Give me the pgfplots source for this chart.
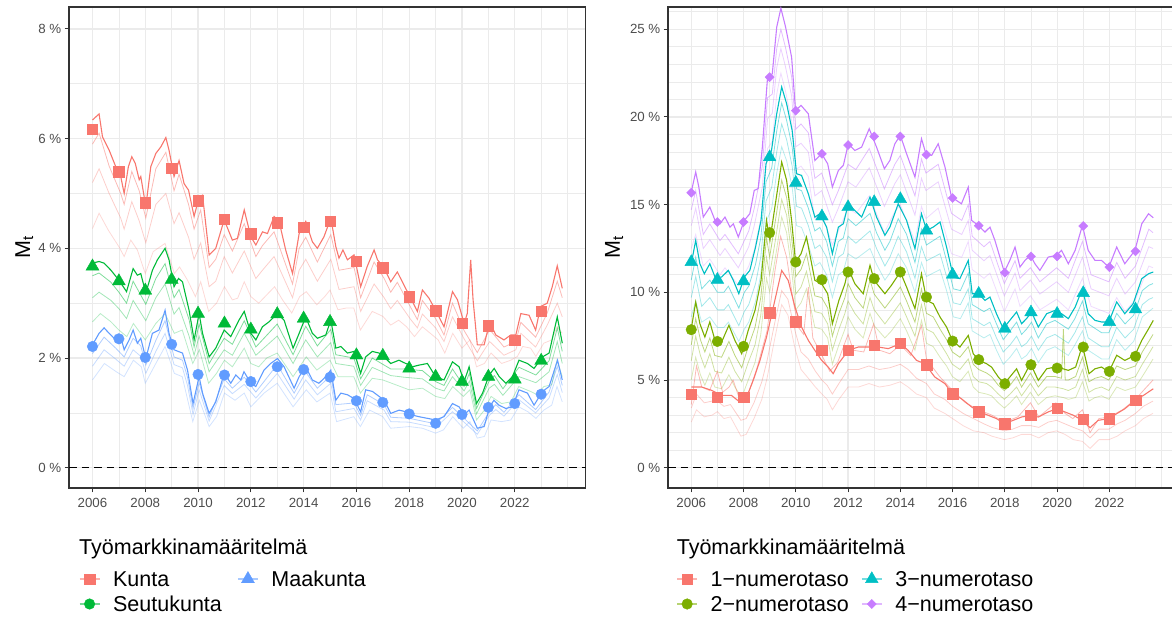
\documentclass[border=0pt]{standalone}
\usepackage{fontspec}
\setmainfont{Liberation Sans}
\usepackage{pgfplots}
\pgfplotsset{compat=1.18}
\definecolor{cR}{HTML}{F8766D}
\definecolor{cG}{HTML}{00BA38}
\definecolor{cB}{HTML}{619CFF}
\definecolor{cO}{HTML}{7CAE00}
\definecolor{cC}{HTML}{00BFC4}
\definecolor{cP}{HTML}{C77CFF}
\definecolor{gridc}{HTML}{EBEBEB}
\definecolor{axc}{HTML}{333333}
\definecolor{tickc}{HTML}{4D4D4D}
\newcommand\lgfont{\fontsize{21.5}{25}\selectfont}
\newcommand\tkfont{\fontsize{13.3}{16}\selectfont}
\pgfplotsset{
 fa/.style={line width=0.8pt, opacity=0.5, forget plot},
 fb/.style={line width=0.8pt, opacity=0.36, forget plot},
 fc/.style={line width=0.8pt, opacity=0.28, forget plot},
 mn/.style={line width=1.1pt, forget plot},
 mk/.style={only marks, forget plot},
 lgk/.style={legend image code/.code={
   \draw[##1, mark=none, line width=1.1pt, draw opacity=0.55] (0pt,0pt) -- (20pt,0pt);
   \draw[##1, only marks] plot coordinates {(10pt,0pt)};}},
 base/.style={
   scale only axis, height=481pt,
   xmin=2005.11, xmax=2024.68,
   xtick={2006,2008,2010,2012,2014,2016,2018,2020,2022},
   xticklabels={2006,2008,2010,2012,2014,2016,2018,2020,2022},
   minor xtick={2007,2009,2011,2013,2015,2017,2019,2021,2023,2024},
   grid=both,
   major grid style={draw=gridc, line width=1.2pt},
   minor grid style={draw=gridc, line width=0.7pt},
   tick align=outside, major tick length=4.5pt, minor tick length=0pt,
   tick style={draw=axc, line width=1pt},
   axis line style={draw=axc, line width=1.1pt},
   xtick pos=left, ytick pos=left,
   ticklabel style={font=\tkfont, text=tickc},
   xticklabel style={inner sep=0pt, yshift=-5.5pt},
   yticklabel style={inner sep=0pt, xshift=-3pt},
   clip mode=individual,
   legend columns=2,
   legend cell align=left,
   ylabel={M\textsubscript{t}},
 },
}
\begin{document}
\begin{tikzpicture}
\useasboundingbox (0pt,0pt) rectangle (1172pt,617pt);
%%%%%%%%%%%%%%%% LEFT
\begin{axis}[base, at={(69pt,129pt)}, anchor=south west, width=516.5pt,
  ymin=-0.37, ymax=8.40,
  ytick={0,2,4,6,8}, yticklabels={0 \%,2 \%,4 \%,6 \%,8 \%},
  minor ytick={1,3,5,7},
  ylabel style={at={(axis description cs:-0.0755,0.5)}, anchor=base, font=\lgfont, inner sep=0pt},
  legend style={at={(axis description cs:0.0194,-0.1732)}, anchor=north west, draw=none, fill=none,
    inner sep=0pt, outer sep=0pt, row sep=9.6pt,
    nodes={inner sep=0pt, text height=15.4pt, text depth=0pt, font=\lgfont},
    /tikz/every odd column/.style={column sep=13pt},
    /tikz/every even column/.style={column sep=15.5pt}},
]
\addplot[black, dashed, line width=1.1pt, dash pattern=on 7.5pt off 5pt, forget plot] coordinates {(2005.11,0)(2024.68,0)};
% Maakunta faint
\addplot[cB, fc] coordinates {(2006.0,1.60)(2006.45,1.90)(2006.9,1.75)(2007.2,1.66)(2007.55,1.96)(2007.85,1.84)(2008.0,1.54)(2008.4,1.90)(2008.75,2.21)(2009.1,1.72)(2009.4,1.66)(2009.8,0.84)(2010.05,1.23)(2010.42,0.75)(2010.7,0.93)(2011.0,1.36)(2011.4,1.23)(2011.75,1.36)(2012.0,1.11)(2012.5,1.36)(2013.0,1.54)(2013.6,1.11)(2014.1,1.42)(2014.5,1.20)(2015.0,1.36)(2015.25,0.84)(2015.9,0.93)(2016.15,0.75)(2016.5,1.05)(2017.0,0.93)(2017.3,0.72)(2018.0,0.75)(2018.5,0.72)(2019.0,0.63)(2019.3,0.69)(2019.65,0.93)(2020.05,0.72)(2020.3,0.84)(2020.58,0.54)(2020.85,0.57)(2021.1,0.87)(2021.5,0.84)(2021.85,0.87)(2022.15,1.11)(2022.5,1.02)(2022.8,0.90)(2023.1,1.05)(2023.4,1.14)(2023.6,1.48)(2023.8,1.20)};
\addplot[cB, fb] coordinates {(2006.0,1.85)(2006.44,2.15)(2006.88,1.98)(2007.2,1.85)(2007.54,2.15)(2007.83,2.03)(2008.02,1.72)(2008.4,2.12)(2008.75,2.45)(2009.09,1.88)(2009.41,1.82)(2009.6,1.5)(2009.81,0.97)(2010.04,1.42)(2010.42,0.85)(2010.99,1.5)(2011.3,1.35)(2011.75,1.52)(2012.19,1.27)(2013.0,1.72)(2013.64,1.25)(2014.08,1.6)(2014.52,1.33)(2015.03,1.54)(2015.22,1.02)(2015.91,1.08)(2016.16,0.87)(2016.41,1.22)(2017.05,1.05)(2017.3,0.84)(2018.0,0.83)(2019.0,0.73)(2019.64,1.02)(2020.08,0.83)(2020.58,0.61)(2021.05,0.96)(2021.28,1.06)(2021.59,0.94)(2022.16,1.24)(2022.79,1.0)(2023.3,1.27)(2023.61,1.7)(2023.8,1.37)};
\addplot[cB, fa] coordinates {(2006.0,2.08)(2006.44,2.38)(2006.88,2.18)(2007.2,2.02)(2007.54,2.36)(2007.83,2.22)(2008.02,1.87)(2008.4,2.32)(2008.75,2.68)(2009.09,2.02)(2009.41,1.96)(2009.6,1.65)(2009.81,1.08)(2010.04,1.55)(2010.42,0.92)(2010.99,1.62)(2011.3,1.45)(2011.75,1.65)(2012.19,1.38)(2013.0,1.88)(2013.64,1.36)(2014.08,1.74)(2014.52,1.45)(2015.03,1.68)(2015.22,1.15)(2015.91,1.18)(2016.16,0.95)(2016.41,1.33)(2017.05,1.15)(2017.3,0.92)(2018.0,0.9)(2019.0,0.8)(2019.64,1.1)(2020.08,0.9)(2020.58,0.67)(2021.05,1.03)(2021.28,1.15)(2021.59,1.01)(2022.16,1.33)(2022.79,1.06)(2023.3,1.38)(2023.61,1.85)(2023.8,1.5)};
% Seutukunta faint
\addplot[cG, fc] coordinates {(2006.0,2.66)(2006.3,2.81)(2006.7,2.66)(2007.0,2.51)(2007.3,2.39)(2007.55,2.63)(2008.0,2.33)(2008.4,2.63)(2008.75,2.81)(2009.1,2.45)(2009.4,2.51)(2009.8,1.90)(2010.05,2.15)(2010.4,1.54)(2010.7,1.72)(2011.0,1.96)(2011.3,1.84)(2011.75,2.18)(2012.0,1.90)(2012.3,1.84)(2012.6,2.0)(2013.0,2.09)(2013.6,1.66)(2014.1,2.02)(2014.5,1.78)(2015.0,1.96)(2015.3,1.66)(2015.9,1.66)(2016.15,1.36)(2016.6,1.63)(2017.0,1.60)(2017.5,1.51)(2018.0,1.42)(2018.5,1.45)(2019.0,1.30)(2019.35,1.26)(2019.65,1.48)(2020.05,1.30)(2020.3,1.42)(2020.55,0.87)(2020.85,1.05)(2021.1,1.30)(2021.5,1.17)(2021.85,1.20)(2022.15,1.48)(2022.6,1.39)(2022.85,1.33)(2023.1,1.48)(2023.4,1.51)(2023.6,1.96)(2023.8,1.66)};
\addplot[cG, fb] coordinates {(2006.0,3.1)(2006.25,3.2)(2006.7,3.05)(2007.0,2.9)(2007.29,2.72)(2007.54,3.05)(2008.02,2.68)(2008.4,3.1)(2008.75,3.35)(2009.09,2.8)(2009.28,2.92)(2009.66,2.4)(2009.85,2.05)(2010.04,2.4)(2010.42,1.75)(2010.99,2.15)(2011.3,2.05)(2011.75,2.45)(2012.19,2.05)(2013.0,2.4)(2013.6,1.9)(2014.08,2.33)(2014.52,2.02)(2015.03,2.28)(2015.22,1.9)(2015.9,1.85)(2016.16,1.5)(2016.6,1.83)(2017.3,1.68)(2017.8,1.65)(2018.5,1.62)(2019.0,1.45)(2019.32,1.4)(2019.64,1.66)(2020.08,1.4)(2020.28,1.58)(2020.55,0.98)(2021.03,1.45)(2021.23,1.52)(2021.55,1.32)(2022.16,1.66)(2022.8,1.55)(2023.3,1.75)(2023.61,2.3)(2023.8,1.9)};
\addplot[cG, fa] coordinates {(2006.0,3.5)(2006.25,3.55)(2006.7,3.38)(2007.0,3.2)(2007.29,3.0)(2007.54,3.4)(2008.02,2.98)(2008.4,3.45)(2008.75,3.72)(2009.09,3.1)(2009.28,3.25)(2009.66,2.7)(2009.85,2.2)(2010.04,2.62)(2010.42,1.9)(2010.99,2.36)(2011.3,2.25)(2011.75,2.68)(2012.19,2.2)(2013.0,2.62)(2013.6,2.06)(2014.08,2.58)(2014.52,2.22)(2015.03,2.52)(2015.22,2.06)(2015.9,2.0)(2016.16,1.62)(2016.6,2.0)(2017.3,1.8)(2017.8,1.8)(2018.5,1.77)(2019.0,1.57)(2019.32,1.5)(2019.64,1.8)(2020.08,1.48)(2020.28,1.72)(2020.55,1.08)(2021.03,1.58)(2021.23,1.68)(2021.55,1.44)(2022.16,1.83)(2022.8,1.69)(2023.3,1.95)(2023.61,2.55)(2023.8,2.12)};
% Kunta faint
\addplot[cR, fc] coordinates {(2006.0,4.36)(2006.25,4.64)(2006.6,4.33)(2007.0,4.03)(2007.2,3.85)(2007.45,4.15)(2007.7,3.97)(2008.0,3.54)(2008.3,3.94)(2008.75,4.09)(2009.1,3.54)(2009.3,3.66)(2009.6,3.42)(2009.9,3.12)(2010.1,3.39)(2010.4,2.85)(2010.7,3.0)(2011.0,3.30)(2011.3,3.06)(2011.5,3.09)(2011.75,3.39)(2012.0,3.12)(2012.3,3.0)(2012.6,3.15)(2012.9,3.30)(2013.2,3.06)(2013.55,2.82)(2013.85,3.12)(2014.1,3.21)(2014.5,2.97)(2014.8,3.12)(2015.0,3.24)(2015.3,2.88)(2015.6,2.91)(2015.9,2.91)(2016.15,2.51)(2016.6,2.85)(2017.0,2.76)(2017.3,2.60)(2017.6,2.69)(2017.9,2.57)(2018.2,2.39)(2018.5,2.57)(2018.8,2.45)(2019.1,2.33)(2019.35,2.09)(2019.65,2.45)(2020.0,2.18)(2020.3,2.33)(2020.55,1.84)(2020.85,1.90)(2021.1,2.09)(2021.5,1.90)(2021.85,1.96)(2022.1,2.03)(2022.3,2.21)(2022.6,2.18)(2022.8,2.03)(2023.1,2.27)(2023.4,2.33)(2023.6,2.57)(2023.8,2.45)};
\addplot[cR, fb] coordinates {(2006.0,5.2)(2006.25,5.45)(2006.63,5.0)(2007.07,4.55)(2007.2,4.35)(2007.49,4.85)(2007.77,4.5)(2008.02,4.1)(2008.4,4.8)(2008.78,5.0)(2009.09,4.45)(2009.28,4.65)(2009.64,4.2)(2009.85,3.8)(2010.1,4.1)(2010.42,3.3)(2010.67,3.4)(2010.99,3.85)(2011.3,3.55)(2011.75,3.95)(2012.19,3.45)(2012.44,3.6)(2012.88,3.85)(2013.58,3.1)(2013.83,3.6)(2014.08,3.8)(2014.52,3.4)(2015.03,3.8)(2015.34,3.25)(2015.91,3.3)(2016.16,2.85)(2016.67,3.35)(2017.05,3.1)(2017.3,2.9)(2017.55,3.05)(2018.06,2.7)(2018.31,2.55)(2018.5,2.8)(2019.0,2.55)(2019.32,2.3)(2019.64,2.75)(2020.08,2.35)(2020.58,1.95)(2021.05,2.3)(2021.59,2.05)(2022.04,2.15)(2022.23,2.45)(2022.79,2.2)(2023.23,2.6)(2023.61,3.0)(2023.8,2.75)};
\addplot[cR, fa] coordinates {(2006.0,5.9)(2006.25,6.1)(2006.63,5.5)(2007.07,5.0)(2007.2,4.8)(2007.49,5.4)(2007.77,5.05)(2008.02,4.55)(2008.4,5.45)(2008.78,5.75)(2009.09,5.05)(2009.28,5.35)(2009.64,4.8)(2009.85,4.35)(2010.1,4.7)(2010.42,3.65)(2010.67,3.8)(2010.99,4.25)(2011.3,3.95)(2011.75,4.45)(2012.19,3.85)(2012.44,4.05)(2012.88,4.3)(2013.58,3.35)(2013.83,4.0)(2014.08,4.2)(2014.52,3.75)(2015.03,4.25)(2015.34,3.6)(2015.91,3.65)(2016.16,3.1)(2016.67,3.75)(2017.05,3.45)(2017.3,3.2)(2017.55,3.38)(2018.06,2.92)(2018.31,2.7)(2018.5,3.05)(2019.0,2.72)(2019.32,2.42)(2019.64,3.0)(2020.08,2.5)(2020.58,2.1)(2021.05,2.52)(2021.59,2.2)(2022.04,2.3)(2022.23,2.65)(2022.79,2.38)(2023.23,2.82)(2023.61,3.4)(2023.8,3.1)};
% main lines
\addplot[cB, mn] coordinates {(2006.0,2.24)(2006.25,2.45)(2006.44,2.55)(2006.63,2.45)(2006.88,2.33)(2007.07,2.39)(2007.2,2.15)(2007.39,2.33)(2007.54,2.51)(2007.7,2.27)(2007.83,2.36)(2008.02,1.99)(2008.27,2.45)(2008.52,2.51)(2008.75,2.87)(2008.9,2.45)(2009.09,2.15)(2009.41,2.09)(2009.6,1.78)(2009.81,1.17)(2010.04,1.66)(2010.17,1.36)(2010.42,0.99)(2010.67,1.20)(2010.99,1.72)(2011.24,1.54)(2011.43,1.69)(2011.62,1.60)(2011.74,1.75)(2012.0,1.54)(2012.19,1.48)(2012.5,1.78)(2012.75,1.90)(2013.01,1.99)(2013.26,1.84)(2013.64,1.45)(2013.83,1.66)(2014.08,1.84)(2014.33,1.60)(2014.58,1.54)(2014.84,1.66)(2015.03,1.78)(2015.22,1.23)(2015.41,1.36)(2015.66,1.33)(2015.91,1.26)(2016.16,1.02)(2016.35,1.42)(2016.61,1.39)(2016.86,1.30)(2017.05,1.23)(2017.3,0.99)(2017.62,1.05)(2017.87,1.02)(2018.12,0.96)(2018.37,0.93)(2018.69,0.90)(2019.0,0.87)(2019.32,0.93)(2019.64,1.17)(2019.89,1.11)(2020.08,0.96)(2020.27,1.05)(2020.58,0.72)(2020.84,0.75)(2021.05,1.11)(2021.21,1.23)(2021.4,1.14)(2021.66,1.08)(2021.91,1.11)(2022.16,1.42)(2022.48,1.36)(2022.73,1.14)(2023.05,1.39)(2023.3,1.48)(2023.62,1.96)(2023.8,1.60)};
\addplot[cG, mn] coordinates {(2006.0,3.73)(2006.25,3.76)(2006.44,3.73)(2006.7,3.60)(2007.0,3.42)(2007.29,3.21)(2007.54,3.63)(2007.7,3.51)(2007.83,3.54)(2008.02,3.18)(2008.27,3.60)(2008.46,3.79)(2008.75,4.0)(2008.9,3.79)(2009.09,3.30)(2009.26,3.45)(2009.41,3.39)(2009.66,2.87)(2009.85,2.33)(2010.04,2.81)(2010.17,2.45)(2010.42,2.02)(2010.67,2.18)(2010.99,2.51)(2011.24,2.39)(2011.55,2.69)(2011.75,2.85)(2012.0,2.45)(2012.19,2.33)(2012.44,2.57)(2012.69,2.66)(2013.01,2.81)(2013.26,2.69)(2013.6,2.18)(2013.83,2.45)(2014.08,2.75)(2014.33,2.45)(2014.52,2.36)(2014.84,2.42)(2015.03,2.69)(2015.22,2.18)(2015.41,2.21)(2015.66,2.09)(2015.91,2.12)(2016.16,1.72)(2016.35,2.02)(2016.6,2.12)(2016.86,2.09)(2017.05,2.02)(2017.3,1.90)(2017.61,1.96)(2017.87,1.90)(2018.12,1.84)(2018.37,1.87)(2018.69,1.90)(2019.0,1.66)(2019.32,1.60)(2019.64,1.93)(2019.89,1.84)(2020.08,1.57)(2020.27,1.84)(2020.55,1.17)(2020.78,1.36)(2021.03,1.69)(2021.22,1.81)(2021.41,1.66)(2021.66,1.54)(2021.91,1.66)(2022.16,1.96)(2022.48,1.90)(2022.73,1.81)(2023.05,2.02)(2023.3,2.09)(2023.61,2.75)(2023.8,2.27)};
\addplot[cR, mn] coordinates {(2006.0,6.34)(2006.25,6.45)(2006.38,6.03)(2006.63,5.79)(2006.88,5.49)(2007.07,5.31)(2007.2,5.0)(2007.36,5.49)(2007.49,5.67)(2007.62,5.55)(2007.77,5.25)(2007.83,5.31)(2008.02,4.76)(2008.21,5.49)(2008.4,5.73)(2008.59,5.85)(2008.78,6.02)(2008.9,5.79)(2009.09,5.31)(2009.28,5.6)(2009.47,5.18)(2009.64,5.06)(2009.85,4.58)(2010.04,4.94)(2010.17,4.97)(2010.42,3.88)(2010.67,4.0)(2010.99,4.52)(2011.3,4.15)(2011.49,4.18)(2011.75,4.7)(2012.0,4.21)(2012.19,4.06)(2012.44,4.3)(2012.63,4.27)(2012.88,4.58)(2013.07,4.49)(2013.32,3.97)(2013.58,3.54)(2013.83,4.27)(2014.08,4.49)(2014.33,4.12)(2014.52,4.0)(2014.77,4.21)(2015.03,4.55)(2015.22,4.03)(2015.34,3.82)(2015.49,3.97)(2015.66,3.79)(2015.91,3.88)(2016.16,3.30)(2016.41,3.67)(2016.67,3.97)(2016.8,3.79)(2017.05,3.64)(2017.3,3.39)(2017.55,3.57)(2017.8,3.33)(2018.06,3.09)(2018.31,2.85)(2018.5,3.24)(2018.75,3.09)(2019.0,2.87)(2019.32,2.57)(2019.64,3.21)(2019.83,3.06)(2020.08,2.63)(2020.2,2.81)(2020.33,3.79)(2020.42,3.06)(2020.58,2.24)(2020.84,2.24)(2021.05,2.66)(2021.28,2.42)(2021.59,2.33)(2021.85,2.42)(2022.04,2.42)(2022.23,2.81)(2022.54,2.78)(2022.79,2.51)(2022.98,2.94)(2023.23,3.0)(2023.42,3.30)(2023.61,3.68)(2023.8,3.27)};
% markers
\addplot[cB, mk, mark=*, mark size=5.3pt] coordinates {(2006,2.21)(2007,2.35)(2008,2.01)(2009,2.25)(2010,1.70)(2011,1.69)(2012,1.57)(2013,1.84)(2014,1.79)(2015,1.65)(2016,1.22)(2017,1.19)(2018,0.98)(2019,0.81)(2020,0.97)(2021,1.10)(2022,1.17)(2023,1.34)};
\addplot[cG, mk, mark=triangle*, mark size=7.5pt] coordinates {(2006,3.67)(2007,3.40)(2008,3.23)(2009,3.43)(2010,2.81)(2011,2.63)(2012,2.52)(2013,2.80)(2014,2.72)(2015,2.66)(2016,2.05)(2017,2.04)(2018,1.81)(2019,1.66)(2020,1.57)(2021,1.66)(2022,1.61)(2023,1.95)};
\addplot[cR, mk, mark=square*, mark size=5.2pt] coordinates {(2006,6.17)(2007,5.40)(2008,4.83)(2009,5.46)(2010,4.87)(2011,4.53)(2012,4.27)(2013,4.47)(2014,4.38)(2015,4.49)(2016,3.76)(2017,3.65)(2018,3.12)(2019,2.86)(2020,2.63)(2021,2.59)(2022,2.33)(2023,2.85)};
% legend
\addlegendimage{cR, mark=square*, mark size=5.2pt, lgk}
\addlegendentry{Kunta}
\addlegendimage{cB, mark=triangle*, mark size=7.5pt, lgk}
\addlegendentry{Maakunta}
\addlegendimage{cG, mark=*, mark size=5.3pt, lgk}
\addlegendentry{Seutukunta}
\node[anchor=base west, font=\lgfont, inner sep=0pt] at (axis description cs:0.0194,-0.1387) {Työmarkkinamääritelmä};
\end{axis}
%%%%%%%%%%%%%%%% RIGHT
\begin{axis}[base, at={(668pt,129pt)}, anchor=south west, width=511.4pt,
  ymin=-1.157, ymax=26.27,
  ytick={0,5,10,15,20,25}, yticklabels={0 \%,5 \%,10 \%,15 \%,20 \%,25 \%},
  minor ytick={1,2,3,4,6,7,8,9,11,12,13,14,16,17,18,19,21,22,23,24,26},
  ylabel style={at={(axis description cs:-0.0939,0.5)}, anchor=base, font=\lgfont, inner sep=0pt},
  legend style={at={(axis description cs:0.0168,-0.1732)}, anchor=north west, draw=none, fill=none,
    inner sep=0pt, outer sep=0pt, row sep=9.6pt,
    nodes={inner sep=0pt, text height=15.4pt, text depth=0pt, font=\lgfont},
    /tikz/every odd column/.style={column sep=13pt},
    /tikz/every even column/.style={column sep=12.5pt}},
]
\addplot[black, dashed, line width=1.1pt, dash pattern=on 7.5pt off 5pt, forget plot] coordinates {(2005.11,0)(2024.68,0)};
% 4-num faint
\addplot[cP, fc] coordinates {(2006.0,12.5)(2006.17,13.3)(2006.46,11.5)(2006.71,11.9)(2007.1,11.0)(2007.29,11.4)(2007.8,10.4)(2008.2,11.5)(2008.41,12.4)(2008.72,14.6)(2008.92,18.2)(2009.1,18.6)(2009.27,21.3)(2009.43,22.5)(2009.6,21.5)(2009.84,19.8)(2010.0,17.0)(2010.2,17.2)(2010.48,16.6)(2010.73,14.2)(2010.99,14.5)(2011.4,12.7)(2011.63,13.5)(2012.0,14.8)(2012.3,14.5)(2012.81,15.5)(2013.39,13.4)(2013.79,14.6)(2014.0,15.0)(2014.56,12.9)(2014.81,14.9)(2014.98,14.2)(2015.45,14.8)(2015.96,12.2)(2016.35,12.0)(2016.6,12.9)(2016.75,11.3)(2017.2,10.8)(2017.43,11.1)(2017.98,8.9)(2018.39,10.2)(2018.58,9.2)(2018.98,9.8)(2019.34,9.0)(2019.98,9.6)(2020.43,9.0)(2020.97,10.8)(2021.3,9.2)(2021.98,8.8)(2022.28,9.7)(2022.6,8.9)(2023.0,9.6)(2023.51,11.5)(2023.67,11.4)};
\addplot[cP, fb] coordinates {(2006.0,13.8)(2006.17,14.8)(2006.46,12.5)(2006.71,13.0)(2007.1,12.1)(2007.29,12.5)(2007.8,11.4)(2008.2,12.6)(2008.41,13.8)(2008.72,16.0)(2008.92,19.9)(2009.1,20.2)(2009.27,22.8)(2009.43,23.9)(2009.6,22.9)(2009.84,21.2)(2010.0,18.3)(2010.2,18.5)(2010.48,18.0)(2010.73,15.5)(2010.99,15.8)(2011.4,14.0)(2011.63,14.8)(2012.0,16.3)(2012.3,16.0)(2012.81,17.1)(2013.39,14.9)(2013.79,16.2)(2014.0,16.7)(2014.56,14.4)(2014.81,16.5)(2014.98,15.8)(2015.45,16.3)(2015.96,13.6)(2016.35,13.3)(2016.6,14.1)(2016.75,12.4)(2017.2,11.8)(2017.43,12.1)(2017.98,9.8)(2018.39,11.1)(2018.58,10.1)(2018.98,10.7)(2019.34,9.9)(2019.98,10.6)(2020.43,10.0)(2020.97,12.0)(2021.3,10.2)(2021.98,9.8)(2022.28,10.8)(2022.6,9.9)(2023.0,10.6)(2023.51,12.6)(2023.67,12.5)};
\addplot[cP, fa] coordinates {(2006.0,14.7)(2006.17,15.8)(2006.46,13.3)(2006.71,13.9)(2007.1,12.95)(2007.29,13.3)(2007.8,12.2)(2008.2,13.5)(2008.41,14.8)(2008.72,17.2)(2008.92,21.1)(2009.1,21.3)(2009.27,23.9)(2009.43,25.0)(2009.6,24.0)(2009.84,22.3)(2010.0,19.3)(2010.2,19.6)(2010.48,19.1)(2010.73,16.5)(2010.99,16.8)(2011.4,15.0)(2011.63,15.8)(2012.0,17.3)(2012.3,17.0)(2012.81,18.2)(2013.39,15.9)(2013.79,17.3)(2014.0,17.8)(2014.56,15.5)(2014.81,17.6)(2014.98,16.8)(2015.45,17.3)(2015.96,14.5)(2016.35,14.1)(2016.6,15.0)(2016.75,13.2)(2017.2,12.6)(2017.43,12.9)(2017.98,10.5)(2018.39,11.8)(2018.58,10.8)(2018.98,11.4)(2019.34,10.6)(2019.98,11.4)(2020.43,10.8)(2020.97,12.9)(2021.3,11.0)(2021.98,10.6)(2022.28,11.7)(2022.6,10.8)(2023.0,11.5)(2023.51,13.6)(2023.67,13.4)};
% 3-num faint
\addplot[cC, fc] coordinates {(2006.0,8.6)(2006.17,9.5)(2006.4,8.3)(2006.71,8.6)(2007.0,8.0)(2007.25,8.0)(2007.42,8.3)(2007.82,7.2)(2008.03,7.9)(2008.2,8.3)(2008.46,9.5)(2008.66,11.0)(2008.86,14.0)(2009.08,14.8)(2009.27,16.8)(2009.46,18.3)(2009.65,17.5)(2009.86,16.0)(2010.03,13.8)(2010.22,13.7)(2010.48,12.7)(2010.73,11.5)(2010.92,11.7)(2011.18,11.0)(2011.4,9.7)(2011.63,11.0)(2011.82,11.2)(2012.0,12.2)(2012.3,11.9)(2012.84,12.5)(2013.09,11.6)(2013.41,10.7)(2013.6,11.1)(2013.92,12.2)(2014.24,11.4)(2014.56,10.0)(2014.81,11.7)(2015.0,10.9)(2015.52,11.3)(2015.77,10.1)(2016.03,8.6)(2016.3,8.5)(2016.6,9.4)(2016.75,7.8)(2017.2,7.4)(2017.43,7.6)(2017.68,6.7)(2017.94,5.9)(2018.2,6.3)(2018.45,6.8)(2018.64,6.2)(2018.83,6.4)(2019.02,6.8)(2019.28,6.0)(2019.6,6.7)(2019.92,6.9)(2020.43,6.4)(2020.68,7.0)(2020.97,7.8)(2021.19,6.7)(2021.7,6.2)(2021.98,6.2)(2022.28,7.3)(2022.6,6.7)(2022.93,7.2)(2023.26,8.6)(2023.51,8.9)(2023.67,9.1)};
\addplot[cC, fb] coordinates {(2006.0,9.7)(2006.17,10.9)(2006.4,9.2)(2006.71,9.7)(2007.0,9.0)(2007.25,9.0)(2007.42,9.3)(2007.82,8.1)(2008.03,8.9)(2008.2,9.3)(2008.46,10.5)(2008.66,12.0)(2008.86,15.2)(2009.08,16.0)(2009.27,18.0)(2009.46,19.6)(2009.65,18.7)(2009.86,17.2)(2010.03,14.9)(2010.22,14.8)(2010.48,13.8)(2010.73,12.5)(2010.92,12.7)(2011.18,12.0)(2011.4,10.6)(2011.63,12.0)(2011.82,12.2)(2012.0,13.2)(2012.3,12.8)(2012.84,13.5)(2013.09,12.5)(2013.41,11.5)(2013.6,12.0)(2013.92,13.2)(2014.24,12.3)(2014.56,10.8)(2014.81,12.6)(2015.0,11.8)(2015.52,12.2)(2015.77,10.9)(2016.03,9.4)(2016.3,9.3)(2016.6,10.2)(2016.75,8.5)(2017.2,8.1)(2017.43,8.3)(2017.68,7.4)(2017.94,6.6)(2018.2,7.0)(2018.45,7.5)(2018.64,6.9)(2018.83,7.1)(2019.02,7.5)(2019.28,6.7)(2019.6,7.4)(2019.92,7.6)(2020.43,7.1)(2020.68,7.7)(2020.97,8.6)(2021.19,7.4)(2021.7,6.9)(2021.98,6.9)(2022.28,8.0)(2022.6,7.4)(2022.93,7.9)(2023.26,9.3)(2023.51,9.6)(2023.67,9.7)};
\addplot[cC, fa] coordinates {(2006.0,10.7)(2006.17,12.0)(2006.4,10.2)(2006.71,10.7)(2007.0,10.0)(2007.25,10.0)(2007.42,10.35)(2007.82,9.1)(2008.03,10.0)(2008.2,10.35)(2008.46,11.6)(2008.66,13.1)(2008.86,16.3)(2009.08,17.1)(2009.27,19.2)(2009.46,20.8)(2009.65,19.8)(2009.86,18.3)(2010.03,15.9)(2010.22,15.8)(2010.48,14.8)(2010.73,13.5)(2010.92,13.7)(2011.18,12.9)(2011.4,11.5)(2011.63,12.9)(2011.82,13.1)(2012.0,14.2)(2012.3,13.8)(2012.84,14.5)(2013.09,13.4)(2013.41,12.4)(2013.6,12.9)(2013.92,14.2)(2014.24,13.3)(2014.56,11.7)(2014.81,13.6)(2015.0,12.7)(2015.52,13.2)(2015.77,11.8)(2016.03,10.2)(2016.3,10.1)(2016.6,11.1)(2016.75,9.3)(2017.2,8.9)(2017.43,9.1)(2017.68,8.2)(2017.94,7.3)(2018.2,7.8)(2018.45,8.3)(2018.64,7.6)(2018.83,7.9)(2019.02,8.3)(2019.28,7.4)(2019.6,8.2)(2019.92,8.4)(2020.43,7.9)(2020.68,8.5)(2020.97,9.5)(2021.19,8.2)(2021.7,7.7)(2021.98,7.7)(2022.28,8.8)(2022.6,8.2)(2022.93,8.7)(2023.26,10.1)(2023.51,10.4)(2023.67,10.5)};
% 2-num faint
\addplot[cO, fc] coordinates {(2006.0,5.0)(2006.17,6.3)(2006.35,5.3)(2006.52,4.7)(2006.71,5.4)(2006.9,4.6)(2007.16,4.5)(2007.44,5.3)(2007.67,4.6)(2007.93,4.0)(2008.18,5.0)(2008.44,6.0)(2008.66,7.6)(2008.88,10.8)(2009.0,10.0)(2009.2,11.8)(2009.46,14.3)(2009.65,13.4)(2009.84,11.3)(2010.0,9.0)(2010.2,9.4)(2010.41,10.2)(2010.73,8.0)(2010.99,7.9)(2011.22,7.4)(2011.4,5.9)(2011.65,7.0)(2011.88,7.9)(2012.0,8.6)(2012.26,7.9)(2012.58,7.4)(2012.84,8.8)(2013.0,8.1)(2013.41,7.4)(2013.66,7.8)(2014.0,8.5)(2014.24,7.8)(2014.56,6.7)(2014.81,8.4)(2015.0,7.1)(2015.26,6.9)(2015.52,6.3)(2015.77,5.8)(2015.99,5.2)(2016.28,4.9)(2016.6,5.5)(2016.79,4.6)(2017.0,4.3)(2017.3,4.2)(2017.49,4.1)(2017.75,3.7)(2017.98,3.4)(2018.2,3.7)(2018.45,4.1)(2018.64,3.6)(2018.98,4.3)(2019.28,3.6)(2019.6,4.0)(2019.92,4.1)(2020.24,4.0)(2020.43,3.9)(2020.71,4.0)(2020.97,4.9)(2021.22,3.8)(2021.45,4.0)(2021.7,4.1)(2021.98,3.9)(2022.28,4.6)(2022.6,4.4)(2023.0,4.6)(2023.26,5.2)(2023.51,5.8)(2023.67,6.2)};
\addplot[cO, fb] coordinates {(2006.0,6.1)(2006.17,7.5)(2006.35,6.4)(2006.52,5.7)(2006.71,6.5)(2006.9,5.5)(2007.16,5.4)(2007.44,6.3)(2007.67,5.5)(2007.93,4.9)(2008.18,6.0)(2008.44,7.0)(2008.66,8.7)(2008.88,12.0)(2009.0,11.0)(2009.2,12.8)(2009.46,15.3)(2009.65,14.4)(2009.84,12.2)(2010.0,9.9)(2010.2,10.3)(2010.41,11.2)(2010.73,8.9)(2010.99,8.8)(2011.22,8.2)(2011.4,6.7)(2011.65,7.9)(2011.88,8.8)(2012.0,9.5)(2012.26,8.8)(2012.58,8.2)(2012.84,9.7)(2013.0,9.0)(2013.41,8.2)(2013.66,8.7)(2014.0,9.4)(2014.24,8.6)(2014.56,7.5)(2014.81,9.3)(2015.0,7.9)(2015.26,7.7)(2015.52,7.1)(2015.77,6.5)(2015.99,5.9)(2016.28,5.6)(2016.6,6.2)(2016.79,5.2)(2017.0,4.9)(2017.3,4.8)(2017.49,4.6)(2017.75,4.2)(2017.98,3.9)(2018.2,4.2)(2018.45,4.6)(2018.64,4.1)(2018.98,4.8)(2019.28,4.1)(2019.6,4.6)(2019.92,4.6)(2020.24,4.5)(2020.43,4.4)(2020.71,4.6)(2020.97,5.6)(2021.22,4.3)(2021.45,4.5)(2021.7,4.6)(2021.98,4.4)(2022.28,5.2)(2022.6,5.0)(2023.0,5.2)(2023.26,5.9)(2023.51,6.5)(2023.67,6.9)};
\addplot[cO, fa] coordinates {(2006.0,7.0)(2006.17,8.5)(2006.35,7.3)(2006.52,6.6)(2006.71,7.4)(2006.9,6.4)(2007.16,6.3)(2007.44,7.2)(2007.67,6.4)(2007.93,5.7)(2008.18,6.9)(2008.44,8.0)(2008.66,9.7)(2008.88,13.1)(2009.0,12.0)(2009.2,13.9)(2009.46,16.4)(2009.65,15.4)(2009.84,13.1)(2010.0,10.9)(2010.2,11.3)(2010.41,12.2)(2010.73,9.8)(2010.99,9.7)(2011.22,9.1)(2011.4,7.5)(2011.65,8.8)(2011.88,9.7)(2012.0,10.5)(2012.26,9.7)(2012.58,9.1)(2012.84,10.7)(2013.0,9.9)(2013.41,9.1)(2013.66,9.6)(2014.0,10.3)(2014.24,9.5)(2014.56,8.3)(2014.81,10.2)(2015.0,8.8)(2015.26,8.6)(2015.52,7.9)(2015.77,7.3)(2015.99,6.6)(2016.28,6.3)(2016.6,6.9)(2016.79,5.9)(2017.0,5.6)(2017.3,5.4)(2017.49,5.2)(2017.75,4.7)(2017.98,4.4)(2018.2,4.7)(2018.45,5.2)(2018.64,4.6)(2018.98,5.4)(2019.28,4.6)(2019.6,5.2)(2019.92,5.2)(2020.17,5.1)(2020.24,7.9)(2020.31,5.0)(2020.43,5.0)(2020.71,5.2)(2020.97,6.3)(2021.22,4.9)(2021.45,5.1)(2021.7,5.2)(2021.98,5.0)(2022.28,5.8)(2022.6,5.6)(2023.0,5.8)(2023.26,6.6)(2023.51,7.2)(2023.67,7.6)};
% 1-num faint
\addplot[cR, fc] coordinates {(2006.0,2.6)(2006.2,3.3)(2006.5,2.9)(2006.8,3.0)(2007.0,3.2)(2007.25,2.8)(2007.5,2.9)(2007.9,1.8)(2008.1,1.9)(2008.4,2.8)(2008.7,3.9)(2008.9,5.1)(2009.2,7.4)(2009.46,9.3)(2009.7,8.7)(2009.97,6.8)(2010.2,5.6)(2010.48,5.1)(2010.75,4.6)(2011.0,4.2)(2011.2,3.9)(2011.4,3.3)(2011.65,3.9)(2012.0,4.6)(2012.4,4.6)(2012.8,4.8)(2013.2,4.6)(2013.6,4.7)(2014.0,4.9)(2014.3,4.6)(2014.62,4.2)(2015.0,4.0)(2015.3,3.4)(2015.7,3.1)(2016.0,2.8)(2016.4,2.4)(2016.8,2.1)(2017.2,2.0)(2017.5,1.8)(2017.98,1.6)(2018.3,1.7)(2018.64,1.9)(2018.98,1.9)(2019.3,1.7)(2019.66,2.0)(2019.98,2.1)(2020.3,1.9)(2020.62,1.6)(2020.97,1.5)(2021.26,1.1)(2021.6,1.6)(2021.98,1.6)(2022.3,1.8)(2022.6,2.1)(2023.0,2.4)(2023.3,2.8)(2023.67,3.1)};
\addplot[cR, fb] coordinates {(2006.0,3.4)(2006.2,4.2)(2006.5,3.7)(2006.8,3.8)(2007.0,3.8)(2007.25,3.5)(2007.5,3.6)(2007.9,2.7)(2008.1,2.8)(2008.4,3.7)(2008.7,4.9)(2008.9,6.1)(2009.2,8.3)(2009.46,10.1)(2009.7,9.6)(2009.97,7.8)(2010.2,6.6)(2010.48,6.2)(2010.75,5.5)(2011.0,5.0)(2011.2,4.7)(2011.4,4.2)(2011.65,4.8)(2012.0,5.6)(2012.4,5.6)(2012.8,5.8)(2013.2,5.6)(2013.6,5.7)(2014.0,5.9)(2014.3,5.6)(2014.62,5.1)(2015.0,4.8)(2015.3,4.2)(2015.7,3.9)(2016.0,3.5)(2016.4,3.1)(2016.8,2.8)(2017.2,2.5)(2017.5,2.3)(2017.98,2.1)(2018.3,2.2)(2018.64,2.4)(2018.98,2.4)(2019.3,2.3)(2019.66,2.6)(2019.98,2.7)(2020.3,2.5)(2020.62,2.3)(2020.97,2.1)(2021.26,1.7)(2021.6,2.2)(2021.98,2.2)(2022.3,2.5)(2022.6,2.7)(2023.0,3.1)(2023.3,3.5)(2023.67,3.8)};
\addplot[cR, fa] coordinates {(2006.0,3.6)(2006.2,5.8)(2006.4,4.6)(2006.7,4.4)(2007.0,5.5)(2007.2,4.3)(2007.45,4.6)(2007.6,5.0)(2007.85,3.9)(2008.2,4.3)(2008.5,5.6)(2008.9,7.8)(2009.2,11.2)(2009.42,13.2)(2009.65,12.0)(2009.9,9.5)(2010.1,8.0)(2010.3,7.6)(2010.48,10.3)(2010.65,7.4)(2011.0,6.4)(2011.3,5.5)(2011.6,6.0)(2012.0,7.6)(2012.2,6.7)(2012.6,6.6)(2012.98,8.2)(2013.2,6.7)(2013.6,6.5)(2014.0,7.0)(2014.4,6.4)(2014.81,8.1)(2015.0,6.2)(2015.5,5.2)(2016.0,4.4)(2016.5,3.7)(2017.0,3.3)(2017.5,3.0)(2018.0,2.6)(2018.5,2.9)(2018.98,3.7)(2019.3,2.9)(2019.95,3.7)(2020.3,3.1)(2020.6,2.8)(2020.97,3.3)(2021.26,2.0)(2021.6,2.8)(2022.0,2.9)(2022.5,3.3)(2023.0,3.9)(2023.3,4.4)(2023.67,5.0)};
% main lines
\addplot[cP, mn] coordinates {(2006.0,15.72)(2006.17,16.86)(2006.29,16.0)(2006.46,14.29)(2006.71,14.86)(2006.91,14.10)(2007.10,13.91)(2007.29,14.29)(2007.48,13.72)(2007.61,13.91)(2007.80,13.15)(2008.03,14.10)(2008.24,14.48)(2008.41,15.81)(2008.56,15.91)(2008.72,18.28)(2008.92,22.27)(2009.10,22.46)(2009.27,25.12)(2009.43,26.2)(2009.61,25.12)(2009.84,23.41)(2009.99,20.37)(2010.20,20.66)(2010.48,20.18)(2010.73,17.52)(2010.99,17.90)(2011.22,17.33)(2011.40,16.0)(2011.63,16.95)(2011.82,17.24)(2012.01,18.47)(2012.26,18.09)(2012.52,18.28)(2012.81,19.33)(2013.09,18.28)(2013.39,17.05)(2013.60,17.52)(2013.79,18.47)(2014.00,18.95)(2014.24,17.90)(2014.56,16.57)(2014.81,18.76)(2014.98,17.90)(2015.20,17.81)(2015.45,18.47)(2015.71,17.14)(2015.96,15.43)(2016.15,15.24)(2016.34,15.05)(2016.60,16.0)(2016.73,14.10)(2016.98,13.82)(2017.24,13.44)(2017.43,13.72)(2017.62,12.96)(2017.98,11.16)(2018.19,11.82)(2018.39,12.58)(2018.58,11.44)(2018.77,11.82)(2018.98,12.11)(2019.15,11.63)(2019.34,11.25)(2019.66,12.01)(2019.98,12.11)(2020.17,12.39)(2020.43,11.63)(2020.69,12.39)(2020.97,13.82)(2021.19,12.39)(2021.45,11.82)(2021.70,11.82)(2021.98,11.44)(2022.28,12.58)(2022.59,11.63)(2022.98,12.39)(2023.24,13.91)(2023.50,14.48)(2023.68,14.25)};
\addplot[cC, mn] coordinates {(2006.0,11.63)(2006.17,12.96)(2006.33,11.63)(2006.50,11.06)(2006.71,11.63)(2006.91,10.87)(2007.16,10.87)(2007.42,11.25)(2007.61,10.68)(2007.82,9.92)(2008.03,10.87)(2008.24,11.25)(2008.46,12.58)(2008.67,14.10)(2008.86,17.33)(2009.07,18.09)(2009.27,20.18)(2009.46,21.71)(2009.65,20.75)(2009.86,19.24)(2010.03,16.76)(2010.22,16.67)(2010.48,15.62)(2010.73,14.29)(2010.92,14.48)(2011.18,13.72)(2011.40,12.20)(2011.63,13.72)(2011.82,13.91)(2012.01,15.05)(2012.26,14.67)(2012.52,14.29)(2012.84,15.43)(2013.09,14.29)(2013.41,13.25)(2013.60,13.72)(2013.92,15.05)(2014.24,14.10)(2014.56,12.49)(2014.81,14.48)(2015.01,13.53)(2015.26,13.72)(2015.52,14.01)(2015.77,12.58)(2016.03,10.87)(2016.28,10.78)(2016.60,11.82)(2016.75,9.92)(2016.98,9.92)(2017.24,9.54)(2017.43,9.73)(2017.68,8.78)(2017.94,7.93)(2018.19,8.40)(2018.45,8.88)(2018.64,8.21)(2018.83,8.50)(2019.02,8.88)(2019.28,8.02)(2019.60,8.78)(2019.92,8.97)(2020.17,8.78)(2020.43,8.50)(2020.69,9.16)(2020.97,10.21)(2021.19,8.78)(2021.45,8.40)(2021.70,8.31)(2021.98,8.31)(2022.28,9.45)(2022.59,8.78)(2022.91,9.35)(2023.24,10.78)(2023.50,11.06)(2023.68,11.16)};
\addplot[cO, mn] coordinates {(2006.0,7.92)(2006.17,9.45)(2006.33,8.21)(2006.52,7.45)(2006.71,8.31)(2006.91,7.26)(2007.16,7.16)(2007.44,8.12)(2007.67,7.26)(2007.93,6.50)(2008.18,7.83)(2008.44,8.97)(2008.67,10.68)(2008.88,14.10)(2009.01,12.96)(2009.20,14.86)(2009.46,17.43)(2009.65,16.38)(2009.84,14.10)(2009.99,11.73)(2010.20,12.20)(2010.41,13.15)(2010.73,10.68)(2010.99,10.49)(2011.22,9.92)(2011.40,8.21)(2011.65,9.54)(2011.88,10.49)(2012.01,11.35)(2012.26,10.49)(2012.58,9.92)(2012.84,11.54)(2013.00,10.68)(2013.41,9.92)(2013.66,10.40)(2014.0,11.16)(2014.24,10.30)(2014.56,9.07)(2014.81,11.06)(2015.01,9.54)(2015.26,9.35)(2015.52,8.59)(2015.77,8.02)(2015.99,7.26)(2016.28,6.88)(2016.60,7.54)(2016.79,6.50)(2017.01,6.12)(2017.30,5.93)(2017.49,5.74)(2017.75,5.17)(2017.98,4.79)(2018.19,5.17)(2018.45,5.64)(2018.64,4.98)(2018.98,5.93)(2019.28,4.98)(2019.60,5.64)(2019.92,5.74)(2020.23,5.64)(2020.43,5.55)(2020.71,5.74)(2020.97,6.98)(2021.22,5.36)(2021.45,5.64)(2021.70,5.74)(2021.98,5.45)(2022.28,6.41)(2022.59,6.12)(2022.98,6.41)(2023.24,7.26)(2023.50,7.92)(2023.68,8.40)};
\addplot[cR, mn] coordinates {(2006.0,4.60)(2006.40,4.60)(2006.78,4.41)(2007.16,4.12)(2007.54,4.12)(2007.86,3.74)(2008.12,4.03)(2008.37,4.98)(2008.63,6.12)(2008.88,7.45)(2009.14,9.16)(2009.46,11.25)(2009.71,10.68)(2009.97,9.16)(2010.22,8.02)(2010.48,7.26)(2010.73,6.69)(2010.99,6.12)(2011.24,5.74)(2011.43,5.36)(2011.63,5.93)(2012.01,6.69)(2012.39,6.88)(2012.77,6.88)(2013.16,6.88)(2013.54,6.79)(2014.0,7.07)(2014.30,6.69)(2014.62,6.12)(2014.94,5.93)(2015.32,5.17)(2015.71,4.79)(2015.99,4.22)(2016.34,3.93)(2016.73,3.46)(2017.05,3.18)(2017.36,2.99)(2017.68,2.80)(2017.98,2.51)(2018.32,2.70)(2018.64,2.89)(2018.98,2.99)(2019.28,2.89)(2019.66,3.18)(2019.98,3.36)(2020.30,3.18)(2020.62,2.99)(2020.97,2.70)(2021.26,2.28)(2021.57,2.70)(2021.98,2.80)(2022.28,3.08)(2022.59,3.36)(2022.98,3.84)(2023.30,4.12)(2023.68,4.50)};
% markers
\addplot[cP, mk, mark=square*, mark size=3.2pt, mark options={rotate=45}] coordinates {(2006,15.68)(2007,14.01)(2008,14.01)(2009,22.27)(2010,20.36)(2011,17.90)(2012,18.40)(2013,18.89)(2014,18.89)(2015,17.85)(2016,15.38)(2017,13.80)(2018,11.12)(2019,12.05)(2020,12.05)(2021,13.78)(2022,11.44)(2023,12.34)};
\addplot[cC, mk, mark=triangle*, mark size=7.3pt] coordinates {(2006,11.73)(2007,10.72)(2008,10.63)(2009,17.71)(2010,16.25)(2011,14.33)(2012,14.86)(2013,15.15)(2014,15.32)(2015,13.53)(2016,11.01)(2017,9.92)(2018,7.93)(2019,8.86)(2020,8.78)(2021,9.96)(2022,8.31)(2023,9.03)};
\addplot[cO, mk, mark=*, mark size=5.3pt] coordinates {(2006,7.87)(2007,7.20)(2008,6.92)(2009,13.40)(2010,11.73)(2011,10.72)(2012,11.16)(2013,10.78)(2014,11.16)(2015,9.73)(2016,7.22)(2017,6.16)(2018,4.79)(2019,5.87)(2020,5.68)(2021,6.88)(2022,5.49)(2023,6.35)};
\addplot[cR, mk, mark=square*, mark size=5.3pt] coordinates {(2006,4.18)(2007,4.03)(2008,4.03)(2009,8.84)(2010,8.31)(2011,6.69)(2012,6.69)(2013,6.98)(2014,7.11)(2015,5.89)(2016,4.22)(2017,3.18)(2018,2.51)(2019,2.99)(2020,3.40)(2021,2.76)(2022,2.80)(2023,3.84)};
% legend
\addlegendimage{cR, mark=square*, mark size=5.3pt, lgk}
\addlegendentry{1−numerotaso}
\addlegendimage{cC, mark=triangle*, mark size=7.3pt, lgk}
\addlegendentry{3−numerotaso}
\addlegendimage{cO, mark=*, mark size=5.3pt, lgk}
\addlegendentry{2−numerotaso}
\addlegendimage{cP, mark=square*, mark size=3.2pt, mark options={rotate=45}, lgk}
\addlegendentry{4−numerotaso}
\node[anchor=base west, font=\lgfont, inner sep=0pt] at (axis description cs:0.0168,-0.1387) {Työmarkkinamääritelmä};
\end{axis}
\end{tikzpicture}
\end{document}
